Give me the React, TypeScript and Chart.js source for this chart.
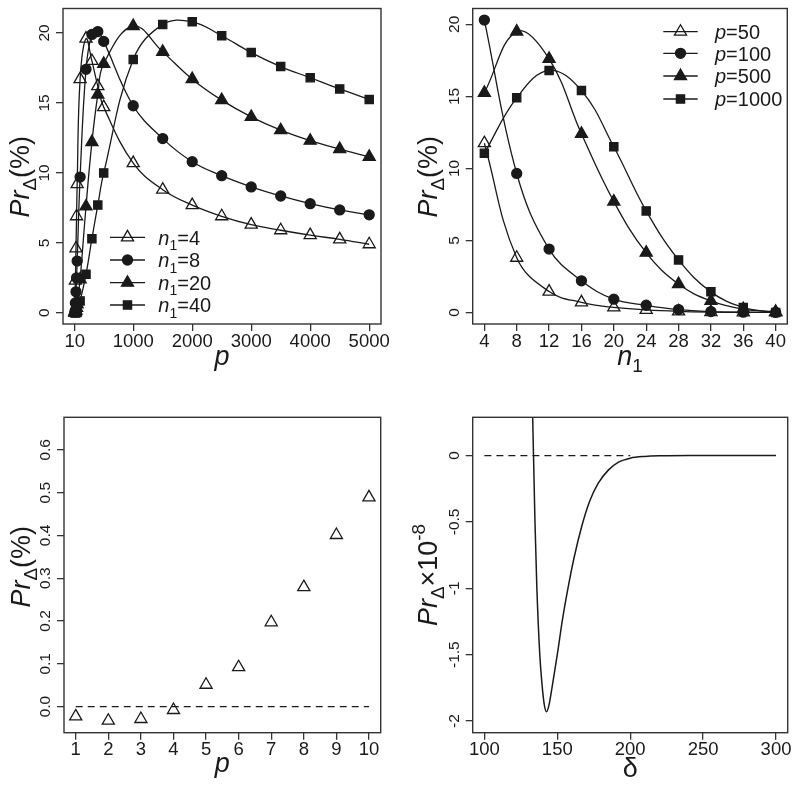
import React, { useEffect, useRef } from "react";
import { Chart, registerables } from "chart.js";
Chart.register(...registerables);

const FONT = '"Liberation Sans", Arial, Helvetica, sans-serif';
const INK = "#1a1a1a";
const FRAME = "#333333";
const X_TICK = 18.5;
const Y_TICK = 15.5;
const LEG = 20;
const TITLE = 27;

// ---- Panel A (top-left): Pr vs p for several n1 ----
const pValues = [10, 20, 30, 40, 50, 100, 200, 300, 400, 500, 1000, 1500, 2000, 2500, 3000, 3500, 4000, 4500, 5000];
const prN1_4 = [0.1, 2.3, 4.6, 6.9, 9.2, 16.7, 19.6, 18.0, 16.2, 14.7, 10.7, 8.8, 7.7, 6.9, 6.3, 5.9, 5.55, 5.25, 4.9];
const prN1_8 = [0.05, 0.7, 1.5, 2.5, 3.7, 9.7, 17.4, 19.9, 20.1, 19.4, 14.8, 12.45, 10.8, 9.8, 9.0, 8.35, 7.8, 7.35, 7.0];
const prN1_20 = [0.0, 0.05, 0.15, 0.35, 0.6, 2.4, 7.6, 12.2, 15.6, 17.8, 20.5, 18.65, 16.7, 15.2, 14.0, 13.05, 12.3, 11.7, 11.15];
const prN1_40 = [0.0, 0.0, 0.0, 0.05, 0.1, 0.85, 2.75, 5.3, 7.7, 10.0, 18.1, 20.6, 20.8, 19.8, 18.6, 17.6, 16.8, 16.0, 15.25];
const tlXTicks = [10, 1000, 2000, 3000, 4000, 5000];
const tlYTicks = [0, 5, 10, 15, 20];

// ---- Panel B (top-right): Pr vs n1 for several p ----
const n1Values = [4, 8, 12, 16, 20, 24, 28, 32, 36, 40];
const prP50 = [11.75, 3.8, 1.45, 0.7, 0.35, 0.18, 0.08, 0.03, 0.01, 0.0];
const prP100 = [20.3, 9.65, 4.4, 2.2, 0.92, 0.5, 0.2, 0.06, 0.02, 0.0];
const prP500 = [15.25, 19.5, 17.6, 12.4, 7.7, 4.15, 1.97, 0.8, 0.23, 0.05];
const prP1000 = [11.05, 14.9, 16.8, 15.4, 11.5, 7.05, 3.65, 1.43, 0.35, 0.0];
const trXTicks = [4, 8, 12, 16, 20, 24, 28, 32, 36, 40];
const trYTicks = [0, 5, 10, 15, 20];

// ---- Panel C (bottom-left): small p ----
const blP = [1, 2, 3, 4, 5, 6, 7, 8, 9, 10];
const blPr = [-0.023, -0.033, -0.029, -0.008, 0.051, 0.092, 0.197, 0.279, 0.401, 0.489];
const blZeroX = [1, 10];
const blXTicks = [1, 2, 3, 4, 5, 6, 7, 8, 9, 10];
const blYTicks = [0, 0.1, 0.2, 0.3, 0.4, 0.5, 0.6];

// ---- Panel D (bottom-right): Pr x 1e-8 vs delta ----
const deltaVals = [133.0, 133.7, 134.7, 136.0, 138.0, 139.5, 141.0, 142.6, 144.3, 146.5, 150.0, 153.5, 157.5, 161.5, 166.6, 172, 178, 185, 192, 200, 210, 222, 240, 300];
const brPr = [0.35, 0.0, -0.5, -1.0, -1.5, -1.72, -1.87, -1.93, -1.88, -1.74, -1.5, -1.24, -0.99, -0.77, -0.54, -0.35, -0.21, -0.11, -0.05, -0.02, -0.007, -0.002, 0, 0];
const brZeroX = [100, 200];
const brXTicks = [100, 150, 200, 250, 300];
const brYTicks = [0, -0.5, -1, -1.5, -2];

type Part = { t: string; it?: boolean; sub?: boolean; sup?: boolean };

function fontFor(p: Part, size: number) {
  const s = p.sub || p.sup ? size * 0.7 : size;
  return `${p.it ? "italic " : ""}${s}px ${FONT}`;
}
function partsWidth(ctx: CanvasRenderingContext2D, parts: Part[], size: number) {
  let w = 0;
  for (const p of parts) {
    ctx.font = fontFor(p, size);
    w += ctx.measureText(p.t).width;
  }
  return w;
}
function drawParts(ctx: CanvasRenderingContext2D, parts: Part[], x: number, y: number, size: number, align: "left" | "center") {
  let cx = align === "center" ? x - partsWidth(ctx, parts, size) / 2 : x;
  ctx.textAlign = "left";
  ctx.textBaseline = "alphabetic";
  for (const p of parts) {
    ctx.font = fontFor(p, size);
    const dy = p.sub ? size * 0.27 : p.sup ? -size * 0.45 : 0;
    ctx.fillText(p.t, cx, y + dy);
    cx += ctx.measureText(p.t).width;
  }
}

function drawMarker(ctx: CanvasRenderingContext2D, style: string, x: number, y: number, r: number, fill: string) {
  ctx.beginPath();
  if (style === "triangle") {
    ctx.moveTo(x, y - r);
    ctx.lineTo(x + r * 0.866, y + r * 0.5);
    ctx.lineTo(x - r * 0.866, y + r * 0.5);
    ctx.closePath();
  } else if (style === "circle") {
    ctx.arc(x, y, r, 0, Math.PI * 2);
  } else {
    const s = r * Math.SQRT1_2;
    ctx.rect(x - s, y - s, 2 * s, 2 * s);
  }
  ctx.fillStyle = fill;
  ctx.fill();
  ctx.strokeStyle = INK;
  ctx.lineWidth = 1.3;
  ctx.stroke();
}

interface Decor {
  xFmt: (v: number) => string;
  yFmt: (v: number) => string;
  xTitle: Part[];
  xTitleOff: number;
  yTitle: Part[];
  yTitleOff: number;
  yTitleY: number;
  legend?: { x1: number; x2: number; tx: number; rows: number[]; labels: Part[][] };
}

function makeDecor(d: Decor) {
  return {
    id: "decor",
    afterDraw(chart: any) {
      const ctx: CanvasRenderingContext2D = chart.ctx;
      const a = chart.chartArea;
      const xs = chart.scales.x;
      const ys = chart.scales.y;
      ctx.save();
      ctx.strokeStyle = FRAME;
      ctx.lineWidth = 1.4;
      ctx.strokeRect(a.left, a.top, a.right - a.left, a.bottom - a.top);
      ctx.fillStyle = INK;
      ctx.font = `${X_TICK}px ${FONT}`;
      ctx.textAlign = "center";
      ctx.textBaseline = "alphabetic";
      for (const t of xs.ticks) {
        ctx.fillText(d.xFmt(t.value), xs.getPixelForValue(t.value), a.bottom + 22.7);
      }
      for (const t of ys.ticks) {
        const py = ys.getPixelForValue(t.value);
        ctx.save();
        ctx.translate(a.left - 13.7, py);
        ctx.rotate(-Math.PI / 2);
        ctx.font = `${Y_TICK}px ${FONT}`;
        ctx.textAlign = "center";
        ctx.textBaseline = "alphabetic";
        ctx.fillText(d.yFmt(t.value), 0, 0);
        ctx.restore();
      }
      drawParts(ctx, d.xTitle, (a.left + a.right) / 2, a.bottom + d.xTitleOff, TITLE, "center");
      ctx.save();
      ctx.translate(a.left - d.yTitleOff, d.yTitleY);
      ctx.rotate(-Math.PI / 2);
      drawParts(ctx, d.yTitle, 0, 0, TITLE, "center");
      ctx.restore();
      if (d.legend) {
        const L = d.legend;
        L.labels.forEach((lab, i) => {
          const dset = chart.data.datasets[i];
          const y = L.rows[i];
          ctx.strokeStyle = INK;
          ctx.lineWidth = 1.3;
          ctx.beginPath();
          ctx.moveTo(L.x1, y);
          ctx.lineTo(L.x2, y);
          ctx.stroke();
          drawMarker(ctx, dset.pointStyle, (L.x1 + L.x2) / 2, y, dset.pointRadius, dset.pointBackgroundColor);
          ctx.fillStyle = INK;
          drawParts(ctx, lab, L.tx, y + LEG * 0.36, LEG, "left");
        });
      }
      ctx.restore();
    },
  };
}

function series(xs: number[], ys: number[]) {
  return xs.map((x, i) => ({ x, y: ys[i] }));
}

function ds(data: any[], style: string, filled: boolean, radius: number, showLine = true, extra: any = {}) {
  return {
    data,
    showLine,
    borderColor: INK,
    borderWidth: 1.3,
    tension: 0.4,
    pointStyle: style,
    pointRadius: radius,
    pointHoverRadius: radius,
    pointBackgroundColor: filled ? INK : "rgba(0,0,0,0)",
    pointBorderColor: INK,
    pointBorderWidth: 1.3,
    ...extra,
  };
}

function scale(axis: "x" | "y", min: number, max: number, ticks: number[]) {
  return {
    type: "linear",
    min,
    max,
    afterBuildTicks: (s: any) => {
      s.ticks = ticks.map((v) => ({ value: v }));
    },
    afterFit: (s: any) => {
      if (axis === "x") s.height = 0;
      else s.width = 0;
    },
    ticks: { display: false },
    grid: { display: true, drawOnChartArea: false, drawTicks: true, tickLength: 7, color: FRAME, lineWidth: 1.3 },
    border: { display: false },
  };
}

function baseOptions(pad: any, x: any, y: any) {
  return {
    responsive: false,
    animation: false,
    events: [],
    layout: { padding: pad },
    plugins: { legend: { display: false }, tooltip: { enabled: false } },
    scales: { x, y },
  };
}

const yTitlePct: Part[] = [{ t: "Pr", it: true }, { t: "Δ", sub: true }, { t: "(%)" }];

const makeTL = () => ({
  type: "line",
  data: {
    datasets: [
      ds(series(pValues, prN1_4), "triangle", false, 7),
      ds(series(pValues, prN1_8), "circle", true, 5),
      ds(series(pValues, prN1_20), "triangle", true, 7),
      ds(series(pValues, prN1_40), "rect", true, 5.8),
    ],
  },
  options: baseOptions({ left: 63, top: 8.5, right: 19, bottom: 66 }, scale("x", -190, 5200, tlXTicks), scale("y", -0.8, 21.75, tlYTicks)),
  plugins: [
    makeDecor({
      xFmt: (v) => String(v),
      yFmt: (v) => String(v),
      xTitle: [{ t: "p", it: true }],
      xTitleOff: 41,
      yTitle: yTitlePct,
      yTitleOff: 34,
      yTitleY: 176.7,
      legend: {
        x1: 110,
        x2: 145,
        tx: 158.3,
        rows: [237.3, 260, 282.7, 305],
        labels: [
          [{ t: "n", it: true }, { t: "1", sub: true }, { t: "=4" }],
          [{ t: "n", it: true }, { t: "1", sub: true }, { t: "=8" }],
          [{ t: "n", it: true }, { t: "1", sub: true }, { t: "=20" }],
          [{ t: "n", it: true }, { t: "1", sub: true }, { t: "=40" }],
        ],
      },
    }),
  ],
});

const makeTR = () => ({
  type: "line",
  data: {
    datasets: [
      ds(series(n1Values, prP50), "triangle", false, 7),
      ds(series(n1Values, prP100), "circle", true, 5),
      ds(series(n1Values, prP500), "triangle", true, 7),
      ds(series(n1Values, prP1000), "rect", true, 5.8),
    ],
  },
  options: baseOptions({ left: 72.7, top: 8.5, right: 12.7, bottom: 66 }, scale("x", 2.56, 41.44, trXTicks), scale("y", -0.8, 21.1, trYTicks)),
  plugins: [
    makeDecor({
      xFmt: (v) => String(v),
      yFmt: (v) => String(v),
      xTitle: [{ t: "n", it: true }, { t: "1", sub: true }],
      xTitleOff: 41,
      yTitle: yTitlePct,
      yTitleOff: 36,
      yTitleY: 176.7,
      legend: {
        x1: 263.3,
        x2: 297.7,
        tx: 315,
        rows: [31.7, 53.3, 76, 99],
        labels: [
          [{ t: "p", it: true }, { t: "=50" }],
          [{ t: "p", it: true }, { t: "=100" }],
          [{ t: "p", it: true }, { t: "=500" }],
          [{ t: "p", it: true }, { t: "=1000" }],
        ],
      },
    }),
  ],
});

const makeBL = () => ({
  type: "line",
  data: {
    datasets: [
      ds(series(blP, blPr), "triangle", false, 7, false),
      ds(series(blZeroX, [0, 0]), "circle", false, 0, true, { borderDash: [7, 5], tension: 0 }),
    ],
  },
  options: baseOptions({ left: 64, top: 27.3, right: 19.3, bottom: 54.3 }, scale("x", 0.64, 10.36, blXTicks), scale("y", -0.061, 0.676, blYTicks)),
  plugins: [
    makeDecor({
      xFmt: (v) => String(v),
      yFmt: (v) => v.toFixed(1),
      xTitle: [{ t: "p", it: true }],
      xTitleOff: 39,
      yTitle: yTitlePct,
      yTitleOff: 34.5,
      yTitleY: 176.7,
    }),
  ],
});

const makeBR = () => ({
  type: "line",
  data: {
    datasets: [
      ds(series(deltaVals, brPr), "circle", false, 0, true, { cubicInterpolationMode: "monotone", borderWidth: 1.5 }),
      ds(series(brZeroX, [0, 0]), "circle", false, 0, true, { borderDash: [7, 5], tension: 0 }),
    ],
  },
  options: baseOptions({ left: 72.7, top: 27.3, right: 12.3, bottom: 54.3 }, scale("x", 92, 308, brXTicks), scale("y", -2.088, 0.288, brYTicks)),
  plugins: [
    makeDecor({
      xFmt: (v) => String(v),
      yFmt: (v) => String(v),
      xTitle: [{ t: "δ" }],
      xTitleOff: 44,
      yTitle: [{ t: "Pr", it: true }, { t: "Δ", sub: true }, { t: "×10" }, { t: "-8", sup: true }],
      yTitleOff: 36,
      yTitleY: 185,
    }),
  ],
});

function Panel(props: { left: number; top: number; width: number; height: number; make: () => any }) {
  const ref = useRef<HTMLCanvasElement>(null);
  useEffect(() => {
    const c = ref.current;
    if (!c) return;
    const chart = new Chart(c, props.make());
    return () => chart.destroy();
  }, []);
  return (
    <canvas
      ref={ref}
      width={props.width}
      height={props.height}
      style={{ position: "absolute", left: props.left, top: props.top, width: props.width, height: props.height }}
    />
  );
}

export default function App() {
  return (
    <div style={{ position: "absolute", left: 0, top: 0, width: 800, height: 787, background: "#ffffff" }}>
      <Panel left={0} top={0} width={400} height={390} make={makeTL} />
      <Panel left={400} top={0} width={400} height={390} make={makeTR} />
      <Panel left={0} top={390} width={400} height={397} make={makeBL} />
      <Panel left={400} top={390} width={400} height={397} make={makeBR} />
    </div>
  );
}
